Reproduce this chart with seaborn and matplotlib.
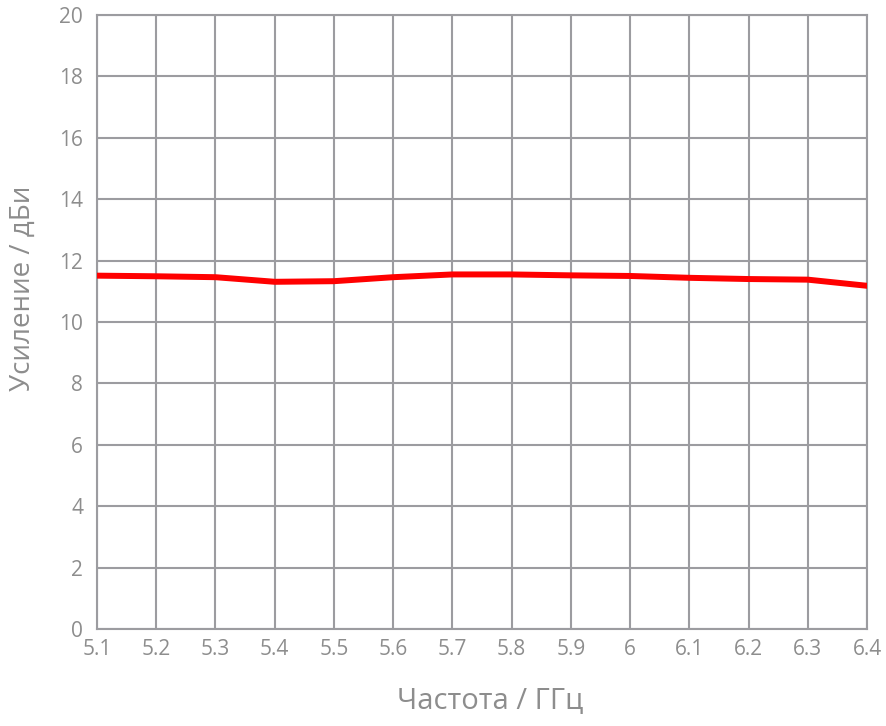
import pandas as pd
import matplotlib
matplotlib.use('Agg')
import matplotlib.pyplot as plt
import seaborn as sns

# Данные усиления антенны
frequency = [5.1, 5.2, 5.3, 5.4, 5.5, 5.6, 5.7, 5.8, 5.9, 6.0, 6.1, 6.2, 6.3, 6.4]
gain = [11.51, 11.49, 11.46, 11.31, 11.33, 11.46, 11.55, 11.55, 11.52, 11.50, 11.44, 11.40, 11.38, 11.18]
x_ticks = [5.1, 5.2, 5.3, 5.4, 5.5, 5.6, 5.7, 5.8, 5.9, 6.0, 6.1, 6.2, 6.3, 6.4]
x_labels = ['5.1', '5.2', '5.3', '5.4', '5.5', '5.6', '5.7', '5.8', '5.9', '6', '6.1', '6.2', '6.3', '6.4']
y_ticks = [0, 2, 4, 6, 8, 10, 12, 14, 16, 18, 20]

df = pd.DataFrame({'Частота': frequency, 'Усиление': gain})

sns.set_style('white')
plt.rcParams['font.family'] = ['Open Sans', 'DejaVu Sans']

grid_color = '#9c9ca0'
text_color = '#8d8d8d'

fig = plt.figure(figsize=(8.86, 7.26), dpi=100)
ax = fig.add_axes([0.1095, 0.1336, 0.8691, 0.8457])

sns.lineplot(data=df, x='Частота', y='Усиление', color='#ff0000', linewidth=4.3, ax=ax, zorder=3)

ax.set_xlim(5.1, 6.4)
ax.set_ylim(0, 20)
ax.set_xticks(x_ticks)
ax.set_xticklabels(x_labels)
ax.set_yticks(y_ticks)
ax.grid(True, color=grid_color, linewidth=1.5)
ax.tick_params(length=0, labelsize=15, labelcolor=text_color)
ax.tick_params(axis='x', pad=7)
ax.tick_params(axis='y', pad=10)
for s in ax.spines.values():
    s.set_color(grid_color)
    s.set_linewidth(1.5)

ax.set_xlabel('Частота / ГГц', fontsize=21, color=text_color, va='center')
ax.set_ylabel('Усиление / дБи', fontsize=20, color=text_color, va='center')
ax.xaxis.set_label_coords(0.51, -0.117)
ax.yaxis.set_label_coords(-0.096, 0.555)

fig.savefig('out.png', dpi=100)
